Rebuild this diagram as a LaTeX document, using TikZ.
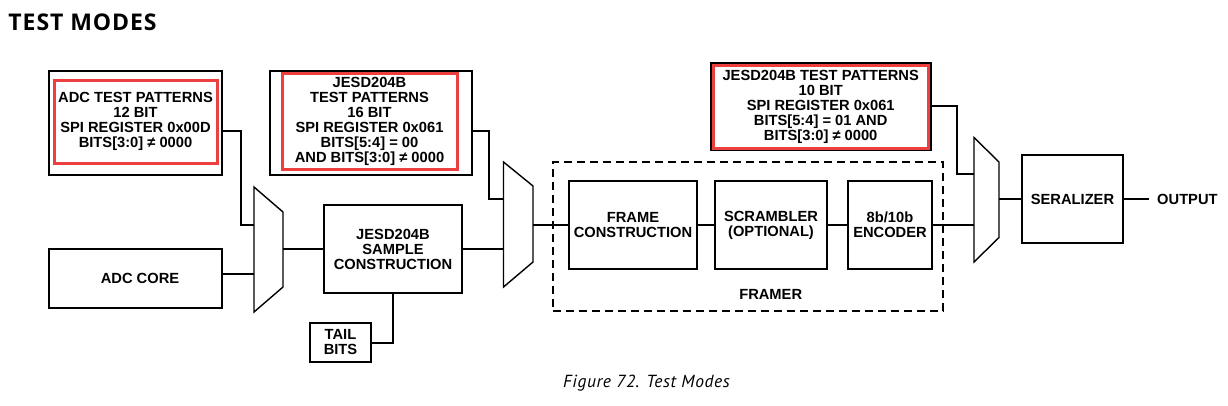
\documentclass[tikz,border=0pt]{standalone}
\usepackage{fontspec}
\setmainfont{Liberation Sans}
\newfontfamily\headfont{PT Sans}
\newfontfamily\titlefont{Open Sans}
\definecolor{patred}{RGB}{236,64,64}
\begin{document}
\begin{tikzpicture}[x=1pt,y=-1pt]
        \tikzstyle{block}=[draw=black,line width=2pt,inner sep=0pt,align=center,font=\bfseries\fontsize{14.7}{15}\selectfont]
        \tikzstyle{patframe}=[draw=black,line width=2pt,inner sep=0pt]
        \tikzstyle{testpat}=[draw=patred,line width=3pt,inner sep=0pt,align=center,font=\bfseries\fontsize{14.7}{15}\selectfont]
        \tikzstyle{label}=[inner sep=0pt,align=center,font=\bfseries\fontsize{14.7}{15}\selectfont]
        \tikzstyle{mux}=[draw,line width=1.4pt,line join=miter]
        \tikzstyle{wire}=[draw,line width=2pt]
        \useasboundingbox (0,0) rectangle (1228,405);
       \begin{scope}
         % test pattern sources
         \node [patframe,minimum width=173,minimum height=104] (adcpat) at (135.5,123) {};
         \node [testpat,minimum width=163,minimum height=83] (adcpatr) at (135.5,121.5) {ADC TEST PATTERNS\\12 BIT\\SPI REGISTER 0x00D\\BITS[3:0] ≠ 0000};
         \node [patframe,minimum width=202,minimum height=104] (jpat16) at (371,122.7) {};
         \node [testpat,minimum width=175,minimum height=96] (jpat16r) at (369.5,121) {JESD204B\\TEST PATTERNS\\16 BIT\\SPI REGISTER 0x061\\BITS[5:4] = 00\\AND BITS[3:0] ≠ 0000};
         \node [patframe,line width=1.5pt,minimum width=220,minimum height=87] (jpat10) at (821,106.7) {};
         \node [testpat,minimum width=215,minimum height=83] (jpat10r) at (820.7,106.8) {JESD204B TEST PATTERNS\\10 BIT\\SPI REGISTER 0x061\\BITS[5:4] = 01 AND\\BITS[3:0] ≠ 0000};
         % data path
         \node [block,minimum width=173,minimum height=59] (adccore) at (135.5,278.5) {\hspace*{9pt}ADC CORE};
         \node [block,minimum width=138,minimum height=88] (sample) at (393,249) {JESD204B\\SAMPLE\\CONSTRUCTION};
         \node [block,minimum width=61,minimum height=39] (tail) at (340.5,342.5) {TAIL\\BITS};
         \node [draw,dashed,dash pattern=on 8pt off 5pt,line width=1.6pt,minimum width=390,minimum height=149] (framer) at (748,236.5) {};
         \node [block,minimum width=128,minimum height=88] (frame) at (633,225) {FRAME\\CONSTRUCTION};
         \node [block,minimum width=112,minimum height=88] (scram) at (771,225) {SCRAMBLER\\(OPTIONAL)};
         \node [block,minimum width=84,minimum height=88] (enc) at (890,225) {8b/10b\\ENCODER};
         \node [label] (framerlbl) at (770.7,294.3) {FRAMER};
         \node [block,minimum width=101,minimum height=88] (ser) at (1072.5,199) {SERALIZER};
         \node [label,anchor=west,inner xsep=8pt] (out) at (1149,199) {OUTPUT};
         % multiplexers
         \draw[mux] (254,187) -- (283,212) -- (283,287) -- (254,312) -- cycle;
         \coordinate (m1a) at (254,225);
         \coordinate (m1b) at (254,274);
         \coordinate (m1o) at (283,249);
         \draw[mux] (503.5,162) -- (533,186) -- (533,262) -- (503.5,287) -- cycle;
         \coordinate (m2a) at (503.5,199);
         \coordinate (m2b) at (503.5,249);
         \coordinate (m2o) at (533,225);
         \draw[mux] (974,137.5) -- (999,162) -- (999,237.5) -- (974,262) -- cycle;
         \coordinate (m3a) at (974,174);
         \coordinate (m3b) at (974,225);
         \coordinate (m3o) at (999,199);
         % connections
         \path[wire] ([yshift=-8pt]adcpat.east) -- ++(18,0) |- (m1a);
         \path[wire] (m1b -| adccore.east) -- (m1b);
         \path[wire] (m1o) -- (m1o -| sample.west);
         \path[wire] (tail.east) -| (sample.south);
         \path[wire] (sample.east) -- (m2b);
         \path[wire] ([yshift=-8pt]jpat16.east) -- ++(15.5,0) |- (m2a);
         \path[wire] (m2o) -- (m2o -| frame.west);
         \path[wire] (frame) -- (scram);
         \path[wire] (scram) -- (enc);
         \path[wire] (enc.east) -- (m3b);
         \path[wire] ([yshift=1pt]jpat10.east) -- ++(25.7,0) |- (m3a);
         \path[wire] (m3o) -- (ser.west);
         \path[wire] (ser.east) -- (out.west);
        \end{scope}
        % title and caption
        \node [anchor=base west,inner sep=0pt,font=\titlefont\bfseries\fontsize{23}{23}\selectfont\addfontfeature{LetterSpace=4}] (title) at (8.3,30) {TEST MODES};
        \node [anchor=base west,inner sep=0pt,font=\headfont\itshape\fontsize{17.5}{18}\selectfont\addfontfeature{LetterSpace=3.5}] (caption) at (563,387) {Figure 72. Test Modes};
      \end{tikzpicture}
\end{document}
